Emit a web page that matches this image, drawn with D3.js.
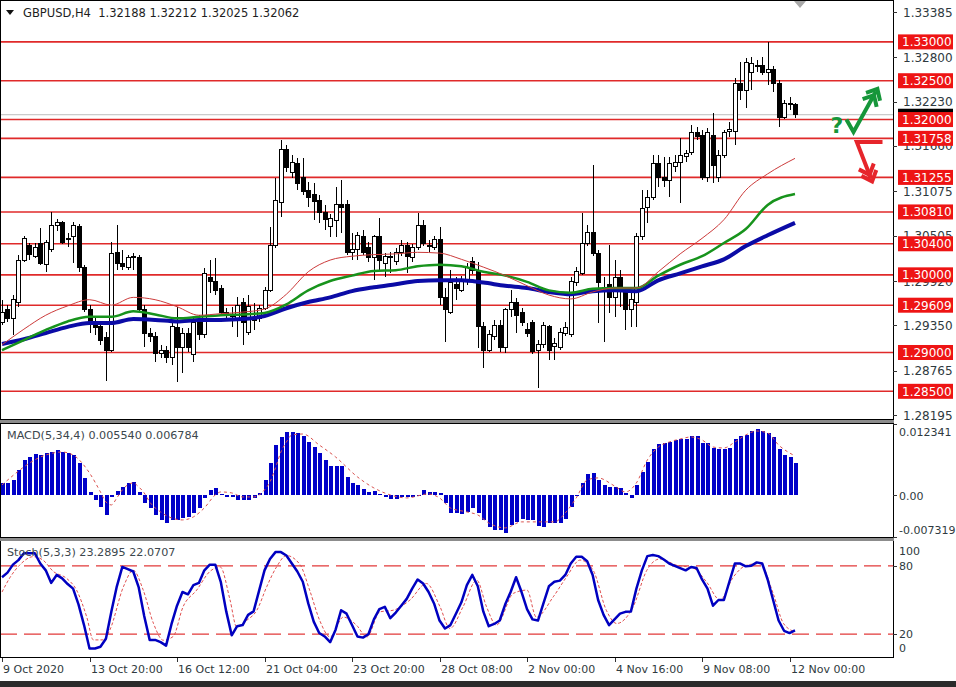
<!DOCTYPE html>
<html><head><meta charset="utf-8">
<script src="https://cdn.jsdelivr.net/npm/d3@7"></script>
<style>html,body{margin:0;padding:0;background:#fff}svg{display:block}</style>
</head><body>
<svg id="c" width="956" height="687"></svg>
<script>
// ---------------- DATA ----------------
const open = [
1.2939,1.2955,1.2944,1.2964,1.3019,1.3038,1.3024,1.3041,1.3013,1.3032,
1.3063,1.3067,1.3045,1.3049,1.3062,1.3010,1.2955,1.2938,1.2933,1.2919,
1.2903,1.3029,1.3015,1.3010,1.3022,1.3022,1.2955,1.2925,1.2920,1.2899,
1.2903,1.2893,1.2932,1.2907,1.2925,1.2897,1.2942,1.2923,1.2997,1.2991,
1.2983,1.2951,1.2946,1.2942,1.2964,1.2926,1.2944,1.2944,1.2957,1.2980,
1.3038,1.3093,1.3161,1.3132,1.3144,1.3125,1.3109,1.3103,1.3096,1.3080,
1.3062,1.3070,1.3090,1.3091,1.3029,1.3032,1.3049,1.3035,1.3022,1.3049,
1.3015,1.3022,1.3017,1.3029,1.3038,1.3022,1.3035,1.3064,1.3038,1.3035,
1.3045,1.2971,1.2952,1.2987,1.2980,1.2991,1.3017,1.3006,1.2933,1.2903,
1.2920,1.2935,1.2906,1.2955,1.2965,1.2951,1.2929,1.2938,1.2903,1.2910,
1.2933,1.2908,1.2907,1.2925,1.2923,1.2990,1.3002,1.3041,1.3054,1.3028,
1.2984,1.2987,1.2971,1.2996,1.2977,1.2955,1.2964,1.3049,1.3087,1.3100,
1.3144,1.3126,1.3122,1.3139,1.3145,1.3153,1.3158,1.3183,1.3180,1.3126,
1.3180,1.3126,1.3154,1.3184,1.3184,1.3247,1.3238,1.3261,1.3269,1.3269,
1.3261,1.3264,1.3247,1.3203,1.3220,1.32188];
const high = [
1.2968,1.2961,1.2974,1.3026,1.3050,1.3041,1.3041,1.3060,1.3045,1.3081,
1.3072,1.3069,1.3054,1.3068,1.3065,1.3013,1.2961,1.2944,1.2939,1.2926,
1.3042,1.3064,1.3032,1.3026,1.3028,1.3026,1.2961,1.2932,1.2926,1.2910,
1.2908,1.2939,1.2959,1.2932,1.2932,1.2944,1.2948,1.3009,1.3019,1.3022,
1.2987,1.2957,1.2959,1.2971,1.2970,1.2974,1.2964,1.2961,1.2984,1.3062,
1.3125,1.3174,1.3167,1.3154,1.3150,1.3150,1.3120,1.3118,1.3103,1.3090,
1.3078,1.3113,1.3122,1.3096,1.3054,1.3055,1.3058,1.3042,1.3051,1.3073,
1.3028,1.3029,1.3035,1.3045,1.3042,1.3040,1.3080,1.3071,1.3045,1.3050,
1.3062,1.2983,1.3006,1.2997,1.2999,1.3015,1.3023,1.3017,1.2939,1.2929,
1.2942,1.2942,1.2957,1.2980,1.2970,1.2957,1.2938,1.2942,1.2916,1.2939,
1.2935,1.2919,1.2932,1.2939,1.2997,1.3010,1.3080,1.3064,1.3141,1.3032,
1.2997,1.3038,1.3019,1.3006,1.2983,1.2980,1.3054,1.3109,1.3109,1.3154,
1.3154,1.3152,1.3152,1.3154,1.3176,1.3161,1.3193,1.3190,1.3187,1.3189,
1.3208,1.3161,1.3187,1.3197,1.3254,1.3274,1.3279,1.3281,1.3277,1.3281,
1.3300,1.3269,1.3251,1.3225,1.3229,1.32212];
const low = [
1.2935,1.2939,1.2923,1.2959,1.3017,1.3019,1.3022,1.3013,1.3004,1.3029,
1.3056,1.3040,1.3036,1.3015,1.3004,1.2952,1.2925,1.2923,1.2910,1.2863,
1.2901,1.3006,1.3006,1.3006,1.3006,1.2952,1.2907,1.2913,1.2888,1.2893,
1.2886,1.2884,1.2862,1.2874,1.2901,1.2888,1.2916,1.2919,1.2977,1.2974,
1.2947,1.2942,1.2933,1.2920,1.2910,1.2923,1.2929,1.2939,1.2955,1.2978,
1.3035,1.3075,1.3132,1.3125,1.3109,1.3103,1.3087,1.3071,1.3067,1.3058,
1.3049,1.3049,1.3054,1.3026,1.3019,1.3019,1.3026,1.3017,1.2993,1.3006,
1.2997,1.3002,1.3013,1.3024,1.3002,1.3017,1.3032,1.3037,1.3029,1.3032,
1.2961,1.2913,1.2950,1.2968,1.2978,1.2987,1.3001,1.2906,1.2880,1.2901,
1.2916,1.2901,1.2899,1.2946,1.2925,1.2934,1.2920,1.2898,1.2854,1.2906,
1.2890,1.2890,1.2903,1.2921,1.2920,1.2986,1.3000,1.3037,1.3024,1.2938,
1.2913,1.2951,1.2946,1.2959,1.2929,1.2933,1.2933,1.3045,1.3067,1.3096,
1.3113,1.3113,1.3100,1.3132,1.3093,1.3145,1.3154,1.3174,1.3122,1.3120,
1.3118,1.3120,1.3150,1.3178,1.3167,1.3225,1.3215,1.3238,1.3261,1.3257,
1.3245,1.3236,1.3190,1.3201,1.3212,1.32025];
const close = [
1.2952,1.2944,1.2968,1.3019,1.3047,1.3026,1.3035,1.3015,1.3042,1.3064,
1.3067,1.3042,1.3047,1.3064,1.3010,1.2955,1.2938,1.2932,1.2916,1.2903,
1.3028,1.3015,1.3011,1.3022,1.3023,1.2955,1.2925,1.2921,1.2899,1.2903,
1.2894,1.2933,1.2907,1.2925,1.2907,1.2939,1.2923,1.3002,1.2991,1.2980,
1.2951,1.2947,1.2947,1.2961,1.2938,1.2959,1.2941,1.2957,1.2980,1.3038,
1.3096,1.3161,1.3138,1.3145,1.3118,1.3107,1.3100,1.3094,1.3080,1.3071,
1.3072,1.3090,1.3087,1.3029,1.3032,1.3051,1.3029,1.3022,1.3049,1.3019,
1.3023,1.3023,1.3029,1.3038,1.3023,1.3035,1.3064,1.3041,1.3036,1.3045,
1.2971,1.2955,1.2990,1.2982,1.2993,1.3009,1.3006,1.2933,1.2903,1.2923,
1.2935,1.2907,1.2955,1.2965,1.2948,1.2938,1.2925,1.2901,1.2910,1.2935,
1.2903,1.2911,1.2926,1.2932,1.2991,1.3004,1.3041,1.3054,1.3028,1.2990,
1.2980,1.2971,1.2996,1.2980,1.2955,1.2968,1.3049,1.3086,1.3100,1.3144,
1.3126,1.3122,1.3144,1.3145,1.3154,1.3156,1.3183,1.3178,1.3126,1.3183,
1.3141,1.3154,1.3183,1.3187,1.3247,1.3238,1.3273,1.3272,1.3270,1.3260,
1.3264,1.3247,1.3203,1.3221,1.3221,1.32062];

// moving averages, read every 4 bars
const maIdx = [0,4,8,12,16,20,24,28,32,36,40,44,48,52,56,60,64,68,72,76,80,84,88,92,96,100,104,108,112,116,120,124,128,132,136,140,145];
const maFast = [1.2910,1.2930,1.2948,1.2960,1.2968,1.2961,1.2971,1.2968,1.2959,1.2948,1.2950,1.2952,1.2956,1.2975,1.3004,1.3019,1.3024,1.3026,1.3027,1.3029,1.3028,1.3020,1.3010,1.2999,1.2986,1.2974,1.2969,1.2978,1.2983,1.2983,1.3004,1.3027,1.3047,1.3071,1.3109,1.3130,1.3150];
const maMid = [1.2903,1.2916,1.2929,1.2940,1.2946,1.2946,1.2953,1.2949,1.2944,1.2946,1.2948,1.2949,1.2951,1.2962,1.2980,1.2992,1.2999,1.3005,1.3006,1.3011,1.3013,1.3011,1.3004,1.2999,1.2991,1.2980,1.2977,1.2982,1.2983,1.2983,1.2999,1.3013,1.3024,1.3041,1.3059,1.3090,1.3104];
const maSlow = [1.2911,1.2917,1.2925,1.2933,1.2938,1.2938,1.2943,1.2942,1.2940,1.2942,1.2942,1.2943,1.2947,1.2957,1.2965,1.2971,1.2979,1.2984,1.2988,1.2992,1.2993,1.2993,1.2990,1.2986,1.2983,1.2978,1.2975,1.2979,1.2980,1.2979,1.2993,1.3002,1.3011,1.3020,1.3037,1.3051,1.3067];

// MACD(5,34,4) histogram, one per bar
const macd = [
0.00209,0.00209,0.0026,0.00435,0.00608,0.00666,0.00713,0.00695,0.0073,0.00753,
0.00782,0.00753,0.0073,0.00695,0.00556,0.00295,0.00057,-0.00087,-0.00203,-0.00348,
-0.0003,0.0007,0.00144,0.00209,0.00231,0.00057,-0.00139,-0.00226,-0.00348,-0.00435,
-0.00487,-0.00435,-0.00435,-0.004,-0.00377,-0.00313,-0.00226,-0.00052,0.00087,0.00122,
0.00017,-0.00035,-0.00035,-0.00087,-0.00087,-0.00087,-0.00052,0.00035,0.0026,0.00556,
0.00869,0.01013,0.011,0.011,0.01078,0.01026,0.00927,0.0084,0.00725,0.00608,
0.0051,0.0051,0.0051,0.00318,0.00203,0.00174,0.00104,0.00057,0.00075,0.00017,
-0.0004,-0.00075,-0.0007,-0.0004,-0.0004,-0.0003,-0.0002,0.00087,0.00057,0.00046,
0.0004,-0.00145,-0.00319,-0.00319,-0.00336,-0.0029,-0.00232,-0.00319,-0.00435,-0.00551,
-0.00608,-0.00608,-0.00666,-0.00521,-0.00464,-0.00423,-0.00435,-0.00435,-0.00539,-0.00551,
-0.00492,-0.00492,-0.00492,-0.00423,-0.00203,0.00005,0.00203,0.00365,0.00388,0.0026,
0.00174,0.00133,0.00133,0.00116,0.0004,-0.00058,0.00174,0.00406,0.00579,0.00794,
0.00887,0.0091,0.00927,0.00956,0.00968,0.00968,0.01026,0.01026,0.00898,0.0091,
0.00811,0.00794,0.00794,0.00811,0.00968,0.01026,0.01043,0.01118,0.01142,0.01118,
0.01083,0.01003,0.00794,0.00695,0.00655,0.00554];
const macdSigIdx = [0,8,11,13,16,18,19,20,21,22,24,25,26,27,29,31,33,35,37,39,40,42,44,46,48,49,50,51,52,53,55,58,61,65,68,71,74,78,80,82,85,87,89,92,95,98,101,103,105,107,109,112,114,116,118,120,122,124,126,128,130,132,134,136,138,140,142,145];
const macdSig = [0.00174,0.00695,0.00747,0.00695,0.00382,0.00052,-0.00122,-0.00174,-0.00052,0.00087,0.00209,0.00139,0.00035,-0.00122,-0.00296,-0.004,-0.00435,-0.00382,-0.00226,0,0.00052,0.00035,-0.00035,-0.00035,0.00087,0.00226,0.00469,0.00747,0.00921,0.01043,0.0106,0.00869,0.0066,0.00313,0.00122,0,-0.00052,0.00017,-0.00052,-0.00226,-0.00296,-0.00348,-0.00487,-0.00574,-0.00469,-0.00469,-0.00469,-0.00313,-0.00052,0.00261,0.00296,0.00156,0.00052,0.00209,0.00608,0.00834,0.00921,0.00973,0.01008,0.00956,0.00834,0.00817,0.00921,0.01043,0.01112,0.01078,0.00869,0.006784];

// Stochastic(5,3,3)
const stochMain = [
70,74,81,85,91,91,91,82,76,65,
72,69,64,60,46,28,7.5,7.5,9,16,
40,62,79,77,75,61,36,15,15,13,
10,29,45,57,55,63,65,76,81,81,
66,40,19,27,28,37,40,58,76,86,
92,92,89,82,75,66,47,31,21,18,
13,24,41,38,28,18,17,20,33,42,
44,34,39,45,51,60,68,64.5,57,47,
32,25,28,38,48,63,72,62,40,27,
29,32,46,57,70,57,42,33,32,47,
62,66,67,72,82,88,88,84,72,50,
37,28,33,38,39.6,40,60,76,88.5,89.4,
88.5,85.5,82,80,78,76,79,78,68,60,
45,50,50,66,82,82,79.5,80,83,82,
68,50,32,23,21,23.29];
const stochSigIdx = [0,1.5,3.3,5.7,7.5,9.4,11.8,13.6,15.5,16.7,18.5,19.7,22.2,24,25.8,27.7,29.5,31.3,33.1,35.6,38,39.9,41.7,42.9,44.7,46.6,48.4,50.2,52,54.5,56.3,58.1,60,62.4,64.8,66.7,69.1,71.5,74.6,77.6,80.1,81.9,84.3,86.8,88.6,90.4,93.5,96,97.7,100.8,103.2,105.7,108.1,110.5,112.4,115.4,117.9,120.3,123.3,126.4,128.8,131.3,133.7,136.2,138.6,141,142.9,145];
const stochSig = [57,70,81,88,85,75,69,59,35,15,15,23.5,61.6,76,59,29.4,14.7,18,44,58.7,75,79,50,26.4,32,41,61.6,79,89,81,58,32,17.6,35,28,17.6,39.6,41,50,64.5,44,25,44,67.4,44,28,55.8,58.7,35,52.8,70,85,76,41,29.4,44,76,86,80.6,78,66,50,70,80.6,82,55.8,29.4,22.07];

const priceTicks = [1.33385,1.32800,1.32230,1.31660,1.31075,1.30505,1.29920,1.29350,1.28765,1.28195];
const levels = [1.33000,1.32500,1.32000,1.31758,1.31255,1.30810,1.30400,1.30000,1.29609,1.29000,1.28500];
const bidPrice = 1.32062;
const xTickIdx = [0,16,32,48,64,80,96,112,128,144];
const xTickLabels = ['9 Oct 2020','13 Oct 20:00','16 Oct 12:00','21 Oct 04:00','23 Oct 20:00','28 Oct 08:00','2 Nov 00:00','4 Nov 16:00','9 Nov 08:00','12 Nov 00:00'];
const macdTicks = [0.012341,0,-0.007319];
const macdTickLabels = ['0.012341','0.00','-0.007319'];
const stochTicks = [100,80,20,0];
const arrowUp = [[154.4,1.3200],[155.7,1.3184],[159.8,1.3236]];
const arrowDown = [[161.0,1.3171],[156.3,1.3171],[158.9,1.3124]];

// ---------------- CHART ----------------
const svg = d3.select('#c');
const F = 'DejaVu Sans, Verdana, sans-serif';
const RX = 893;
const x = d3.scaleLinear().domain([0,145]).range([2,795]);
const yP = d3.scaleLinear().domain([1.28195,1.33385]).range([415,12]);
const yM = d3.scaleLinear().domain([-0.007319,0.012341]).range([537,424]);
const yS = d3.scaleLinear().domain([0,100]).range([657,543]);
const cx = i => Math.round(x(i));

svg.append('rect').attr('width',956).attr('height',687).attr('fill','#fff');
const defs = svg.append('defs');
[['cm',1,1,892,418],['cd',1,424,892,113],['cs',1,541,892,116]].forEach(c=>{
  defs.append('clipPath').attr('id',c[0]).append('rect').attr('x',c[1]).attr('y',c[2]).attr('width',c[3]).attr('height',c[4]);
});

// ---- main panel
const gm = svg.append('g').attr('clip-path','url(#cm)');
gm.selectAll('line.lvl').data(levels).join('line')
  .attr('x1',0).attr('x2',RX).attr('y1',d=>yP(d)).attr('y2',d=>yP(d))
  .attr('stroke','#e02a2a').attr('stroke-width',1.6);
gm.append('line').attr('x1',0).attr('x2',RX).attr('y1',yP(bidPrice)).attr('y2',yP(bidPrice))
  .attr('stroke','#bdbdbd').attr('stroke-width',1);

const idx = d3.range(open.length);
const gc = gm.append('g').attr('shape-rendering','crispEdges');
gc.selectAll('line.w').data(idx).join('line')
  .attr('x1',i=>cx(i)+0.5).attr('x2',i=>cx(i)+0.5)
  .attr('y1',i=>yP(high[i])).attr('y2',i=>yP(low[i]))
  .attr('stroke','#000').attr('stroke-width',1);
gc.selectAll('rect.b').data(idx).join('rect')
  .attr('x',i=>cx(i)-1.5).attr('width',4)
  .attr('y',i=>yP(Math.max(open[i],close[i])))
  .attr('height',i=>Math.max(1,Math.abs(yP(open[i])-yP(close[i]))))
  .attr('fill',i=>close[i]>=open[i]?'#fff':'#000')
  .attr('stroke','#000').attr('stroke-width',1);

const maLine = arr => d3.line().x((d,k)=>x(maIdx[k])).y(d=>yP(d)).curve(d3.curveMonotoneX)(arr);
gm.append('path').attr('d',maLine(maSlow)).attr('fill','none').attr('stroke','#0b0ba6').attr('stroke-width',4);
gm.append('path').attr('d',maLine(maMid)).attr('fill','none').attr('stroke','#17931c').attr('stroke-width',2.5);
gm.append('path').attr('d',maLine(maFast)).attr('fill','none').attr('stroke','#cc3b3b').attr('stroke-width',1);

// arrows
function arrow(pts,color){
  const p = pts.map(d=>[x(d[0]),yP(d[1])]);
  const a=p[p.length-2], b=p[p.length-1];
  const L=Math.hypot(b[0]-a[0],b[1]-a[1]); const ux=(b[0]-a[0])/L, uy=(b[1]-a[1])/L;
  const nx=-uy, ny=ux;
  const g = svg.append('g').attr('fill','none').attr('stroke',color).attr('stroke-width',4)
    .attr('stroke-linejoin','miter').attr('stroke-linecap','butt');
  g.append('path').attr('d',d3.line()(p));
  [0,7].forEach(k=>{
    const t=[b[0]+ux*(3-k), b[1]+uy*(3-k)];
    g.append('path').attr('d',d3.line()([[t[0]-ux*9+nx*8,t[1]-uy*9+ny*8],t,[t[0]-ux*9-nx*8,t[1]-uy*9-ny*8]]));
  });
}
arrow(arrowUp,'#16963a');
arrow(arrowDown,'#e6252b');
svg.append('text').attr('x',x(arrowUp[0][0])-16).attr('y',yP(arrowUp[1][1])+1)
  .attr('font-family',F).attr('font-weight','bold').attr('font-size',22).attr('fill','#16963a').text('?');

// ---- MACD panel
const gd = svg.append('g').attr('clip-path','url(#cd)');
gd.selectAll('rect').data(idx).join('rect').attr('shape-rendering','crispEdges')
  .attr('x',i=>cx(i)-1.5).attr('width',4)
  .attr('y',i=>Math.min(yM(0),yM(macd[i])))
  .attr('height',i=>Math.max(1,Math.abs(yM(macd[i])-yM(0))))
  .attr('fill','#0000c8');
gd.append('path').attr('d',d3.line().x((d,k)=>x(macdSigIdx[k])).y(d=>yM(d)).curve(d3.curveMonotoneX)(macdSig))
  .attr('fill','none').attr('stroke','#d9534f').attr('stroke-width',1).attr('stroke-dasharray','3,3');

// ---- Stochastic panel
const gs = svg.append('g').attr('clip-path','url(#cs)');
gs.selectAll('line.lv').data([80,20]).join('line')
  .attr('x1',0).attr('x2',RX).attr('y1',d=>yS(d)).attr('y2',d=>yS(d))
  .attr('stroke','#e23a3a').attr('stroke-width',1.2).attr('stroke-dasharray','17,7');
gs.append('path').attr('d',d3.line().x((d,k)=>x(stochSigIdx[k])).y(d=>yS(d)).curve(d3.curveMonotoneX)(stochSig))
  .attr('fill','none').attr('stroke','#e05050').attr('stroke-width',1).attr('stroke-dasharray','3,2');
gs.append('path').attr('d',d3.line().x((d,k)=>x(k)).y(d=>yS(d))(stochMain))
  .attr('fill','none').attr('stroke','#0000c0').attr('stroke-width',2.5).attr('stroke-linejoin','round');

// ---- frames
const fr = svg.append('g').attr('shape-rendering','crispEdges').attr('fill','none').attr('stroke','#000');
svg.append('rect').attr('x',0).attr('y',420).attr('width',RX+1).attr('height',3).attr('fill','#8c8c8c');
svg.append('rect').attr('x',0).attr('y',538).attr('width',RX+1).attr('height',3).attr('fill','#8c8c8c');
fr.append('rect').attr('x',0.5).attr('y',0.5).attr('width',RX).attr('height',419);
fr.append('rect').attr('x',0.5).attr('y',423.5).attr('width',RX).attr('height',114);
fr.append('rect').attr('x',0.5).attr('y',540.5).attr('width',RX).attr('height',117);
svg.append('rect').attr('x',0).attr('y',681).attr('width',956).attr('height',6).attr('fill','#2b2b2b');

// chart shift marker
svg.append('path').attr('d','M794,1 L806,1 L800,8 Z').attr('fill','#a8a8a8');

// header
svg.append('path').attr('d','M6,10 L14,10 L10,15 Z').attr('fill','#111');
svg.append('text').attr('x',23).attr('y',17).attr('font-family',F).attr('font-size',11.5).attr('fill','#1e1e1e')
  .attr('xml:space','preserve').text('GBPUSD,H4  1.32188 1.32212 1.32025 1.32062');

// price axis
const ax = svg.append('g').attr('font-family',F);
ax.selectAll('line.t').data(priceTicks).join('line').attr('shape-rendering','crispEdges')
  .attr('x1',RX).attr('x2',RX+4).attr('y1',d=>Math.round(yP(d))+0.5).attr('y2',d=>Math.round(yP(d))+0.5).attr('stroke','#333');
ax.selectAll('text.t').data(priceTicks).join('text')
  .attr('x',903).attr('y',d=>yP(d)+4.5).attr('font-size',12).attr('fill','#2f3a40').text(d=>d.toFixed(5));
ax.append('rect').attr('x',898).attr('y',yP(bidPrice)-6).attr('width',55).attr('height',12).attr('fill','#000');
ax.selectAll('rect.l').data(levels).join('rect')
  .attr('x',898).attr('y',d=>yP(d)-7.5).attr('width',55).attr('height',15).attr('fill','#ee1414');
ax.selectAll('text.l').data(levels).join('text')
  .attr('x',902).attr('y',d=>yP(d)+4.5).attr('font-size',12).attr('fill','#fff').text(d=>d.toFixed(5));

// macd axis
ax.selectAll('line.m').data(macdTicks).join('line').attr('shape-rendering','crispEdges')
  .attr('x1',RX).attr('x2',RX+4).attr('y1',d=>Math.round(yM(d))+0.5).attr('y2',d=>Math.round(yM(d))+0.5).attr('stroke','#333');
ax.selectAll('text.m').data(macdTicks).join('text')
  .attr('x',899).attr('y',(d,k)=>k===0?yM(d)+12:(k===2?yM(d)-3:yM(d)+5))
  .attr('font-size',11).attr('fill','#2f3a40').text((d,k)=>macdTickLabels[k]);
svg.append('text').attr('x',7).attr('y',439).attr('font-family',F).attr('font-size',11.2).attr('fill','#3c474d')
  .text('MACD(5,34,4) 0.005540 0.006784');

// stoch axis
ax.selectAll('line.s').data([80,20]).join('line').attr('shape-rendering','crispEdges')
  .attr('x1',RX).attr('x2',RX+4).attr('y1',d=>Math.round(yS(d))+0.5).attr('y2',d=>Math.round(yS(d))+0.5).attr('stroke','#333');
ax.selectAll('text.s').data(stochTicks).join('text')
  .attr('x',899).attr('y',d=>d===100?yS(d)+12:(d===0?yS(d)-5:yS(d)+4))
  .attr('font-size',11).attr('fill','#2f3a40').text(d=>d);
svg.append('text').attr('x',7).attr('y',556).attr('font-family',F).attr('font-size',11.2).attr('fill','#3c474d')
  .text('Stoch(5,3,3) 23.2895 22.0707');

// time axis
ax.selectAll('line.x').data(xTickIdx).join('line').attr('shape-rendering','crispEdges')
  .attr('x1',d=>cx(d)+0.5).attr('x2',d=>cx(d)+0.5).attr('y1',658).attr('y2',662).attr('stroke','#333');
ax.selectAll('text.x').data(xTickIdx).join('text')
  .attr('x',d=>cx(d)+1).attr('y',673).attr('font-size',11).attr('fill','#2f3a40').text((d,k)=>xTickLabels[k]);
</script>
</body></html>
